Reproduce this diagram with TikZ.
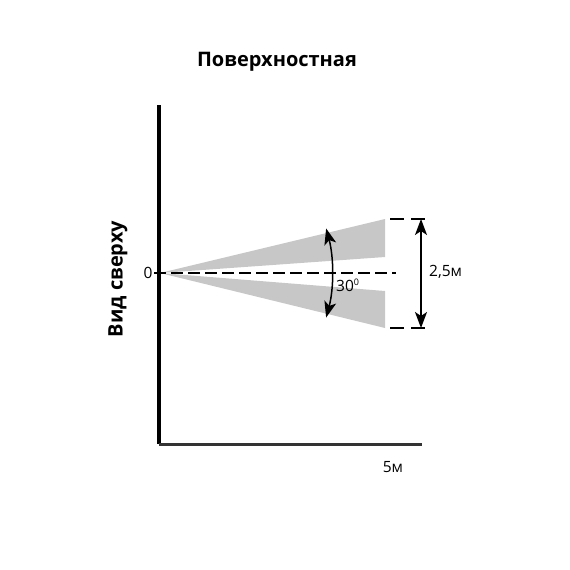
\documentclass[tikz,border=0pt]{standalone}
\usepackage{fontspec}
\setmainfont{Open Sans}
\usetikzlibrary{arrows.meta}
\tikzset{
    zone/.style={fill=black!22},
    axis/.style={line width=3.5pt},
    dimtip/.style={{Stealth[length=16pt, width=12pt, inset=4pt]}-{Stealth[length=16pt, width=12pt, inset=4pt]}, line width=1.5pt},
    label/.style={font=\fontsize{15.5}{17}\selectfont, inner sep=1pt},
    heading/.style={font=\fontsize{20}{22}\selectfont\bfseries, inner sep=1pt}
}
\begin{document}
\begin{tikzpicture}[x=1pt, y=-1pt]
    \useasboundingbox (0,0) rectangle (570,570);
    \coordinate (O) at (160,273);
    \coordinate (top) at (159,105);
    \coordinate (corner) at (159,444);
    \coordinate (xend) at (422,444);
    % wedges
    \fill [zone] (O) -- (385,219) -- (385,257) -- cycle;
    \fill [zone] (O) -- (385,291) -- (385,328) -- cycle;
    \coordinate (mid) at (396,273);
    \draw [line width=1.5pt, dash pattern=on 12pt off 5pt] (154,273) -- (mid);
    % axes
    \draw [axis] (top) -- (corner);
    \draw [axis, line width=3pt, black!80] (corner) -- (xend);
    % angle
    \draw [dimtip] (O) ++(-15:172) arc [start angle=-15, end angle=15, radius=172];
    \node [label, anchor=west] (ang) at (335,285) {30\raisebox{0.75ex}{\fontsize{9}{10}\selectfont 0}};
    % dimension
    \coordinate (d1) at (390,219);
    \coordinate (d2) at (426,219);
    \coordinate (d3) at (390,328);
    \coordinate (d4) at (426,328);
    \draw [line width=1.5pt, dash pattern=on 14pt off 7pt] (d1) -- (d2);
    \draw [line width=1.5pt, dash pattern=on 14pt off 7pt] (d3) -- (d4);
    \draw [dimtip] (421,219) -- (421,328);
    \node [label, anchor=west] (width) at (428,272) {2,5м};
    % texts
    \node [label] (zero) at (148,273) {0};
    \node [label] (five) at (393,467) {5м};
    \node [heading] (title) at (277,62) {Поверхностная};
    \node [heading, rotate=90] (view) at (118,279) {Вид сверху};
\end{tikzpicture}
\end{document}
